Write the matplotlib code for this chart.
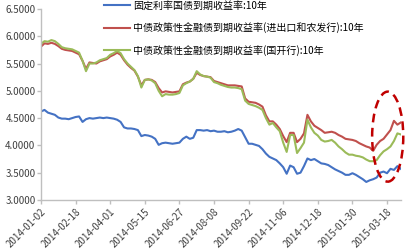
import numpy as np
import matplotlib
matplotlib.use("Agg")
import matplotlib.pyplot as plt
from matplotlib.patches import Ellipse

plt.rcParams['font.family'] = ['Noto Sans CJK SC', 'DejaVu Sans']

# 标签
tick_labels = ['2014-01-02', '2014-02-18', '2014-04-01', '2014-05-15', '2014-06-27',
               '2014-08-08', '2014-09-22', '2014-11-06', '2014-12-18', '2015-01-30',
               '2015-03-18']
step = 10  # 每个刻度之间的数据点数

names = ['固定利率国债到期收益率:10年',
         '中债政策性金融债到期收益率(进出口和农发行):10年',
         '中债政策性金融债到期收益率(国开行):10年']

# 国债 10年
gov = [4.62, 4.65, 4.60, 4.58, 4.56, 4.51, 4.49, 4.49, 4.48, 4.50,
       4.52, 4.53, 4.43, 4.48, 4.50, 4.49, 4.50, 4.51, 4.50, 4.51,
       4.50, 4.49, 4.47, 4.43, 4.33, 4.31, 4.31, 4.30, 4.28, 4.17,
       4.19, 4.18, 4.16, 4.12, 4.01, 4.04, 4.05, 4.04, 4.03, 4.04,
       4.05, 4.12, 4.16, 4.12, 4.14, 4.28, 4.28, 4.27, 4.28, 4.26,
       4.27, 4.25, 4.25, 4.26, 4.24, 4.25, 4.27, 4.30, 4.27, 4.15,
       4.03, 4.03, 4.01, 3.99, 3.93, 3.85, 3.79, 3.76, 3.73, 3.67,
       3.60, 3.48, 3.63, 3.60, 3.48, 3.50, 3.62, 3.76, 3.73, 3.75,
       3.71, 3.67, 3.66, 3.64, 3.60, 3.56, 3.53, 3.50, 3.46, 3.46,
       3.49, 3.46, 3.42, 3.38, 3.33, 3.36, 3.38, 3.41, 3.50, 3.52,
       3.49, 3.57, 3.55, 3.62, 3.57]

# 进出口和农发行 10年
adbc = [5.81, 5.87, 5.86, 5.88, 5.86, 5.82, 5.77, 5.75, 5.74, 5.73,
        5.70, 5.67, 5.55, 5.40, 5.52, 5.51, 5.50, 5.54, 5.56, 5.58,
        5.63, 5.66, 5.70, 5.66, 5.56, 5.48, 5.42, 5.37, 5.26, 5.10,
        5.20, 5.21, 5.20, 5.16, 5.05, 4.97, 4.99, 4.98, 4.97, 4.98,
        4.99, 5.12, 5.15, 5.17, 5.22, 5.33, 5.29, 5.27, 5.26, 5.25,
        5.18, 5.16, 5.14, 5.12, 5.10, 5.10, 5.10, 5.09, 5.08, 4.86,
        4.80, 4.79, 4.78, 4.75, 4.71, 4.55, 4.44, 4.44, 4.38, 4.30,
        4.17, 4.06, 4.23, 4.23, 4.06, 4.12, 4.22, 4.56, 4.44, 4.36,
        4.32, 4.28, 4.23, 4.24, 4.25, 4.23, 4.19, 4.16, 4.12, 4.11,
        4.10, 4.08, 4.04, 4.01, 3.98, 3.96, 3.90, 4.01, 4.08, 4.12,
        4.20, 4.28, 4.45, 4.38, 4.42]

# 国开行 10年
cdb = [5.86, 5.91, 5.90, 5.93, 5.91, 5.86, 5.80, 5.78, 5.77, 5.76,
       5.73, 5.70, 5.55, 5.36, 5.50, 5.50, 5.52, 5.56, 5.58, 5.60,
       5.66, 5.69, 5.73, 5.69, 5.58, 5.50, 5.44, 5.38, 5.27, 5.06,
       5.20, 5.21, 5.19, 5.14, 5.00, 4.90, 4.94, 4.93, 4.93, 4.94,
       4.96, 5.10, 5.14, 5.17, 5.22, 5.36, 5.30, 5.27, 5.26, 5.24,
       5.16, 5.14, 5.11, 5.09, 5.07, 5.06, 5.06, 5.05, 5.03, 4.82,
       4.76, 4.74, 4.72, 4.69, 4.65, 4.50, 4.38, 4.41, 4.33, 4.26,
       4.05, 3.88, 4.19, 4.19, 3.86, 3.95, 4.05, 4.47, 4.33, 4.23,
       4.18, 4.10, 4.07, 4.08, 4.10, 4.05, 3.98, 3.93, 3.87, 3.83,
       3.83, 3.81, 3.80, 3.78, 3.74, 3.71, 3.71, 3.73, 3.82, 3.89,
       3.93, 3.98, 4.08, 4.22, 4.20]

fig = plt.figure(figsize=(4.16, 2.49), dpi=100)
ax = fig.add_axes([0.0986, 0.197, 0.865, 0.767])

x = np.arange(len(gov))
l1, = ax.plot(x, gov, color='#4472C4', lw=1.5)
l2, = ax.plot(x, adbc, color='#C0504D', lw=1.5)
l3, = ax.plot(x, cdb, color='#9BBB59', lw=1.5)

ax.set_xlim(0, len(gov) - 1)
ax.set_ylim(3.0, 6.5)
ax.set_yticks(np.arange(3.0, 6.51, 0.5))
ax.set_yticklabels(['%.4f' % v for v in np.arange(3.0, 6.51, 0.5)])
ax.set_xticks(np.arange(len(tick_labels)) * step)
ax.set_xticklabels(tick_labels, rotation=45, ha='right', rotation_mode='anchor')

for s in ['top', 'right']:
    ax.spines[s].set_visible(False)
for s in ['left', 'bottom']:
    ax.spines[s].set_color('#BFBFBF')
    ax.spines[s].set_linewidth(1.0)
ax.tick_params(axis='both', colors='#BFBFBF', labelcolor='#404040',
               labelsize=7, length=3, width=1.0)
ax.tick_params(axis='x', pad=2)
ax.tick_params(axis='y', pad=1)

# 虚线椭圆标注
ell = Ellipse((100.2, 4.16), 9.0, 1.65, fill=False, edgecolor='#C00000',
              lw=1.8, ls=(0, (3.5, 2.2)), clip_on=False, zorder=5)
ax.add_patch(ell)

fig.legend([l1, l2, l3], names, loc='upper left', bbox_to_anchor=(0.245, 1.005),
           frameon=False, fontsize=7.2, handlelength=2.6, handletextpad=0.3,
           labelspacing=1.15, borderpad=0.2, borderaxespad=0)

fig.savefig('out.png', dpi=100)
